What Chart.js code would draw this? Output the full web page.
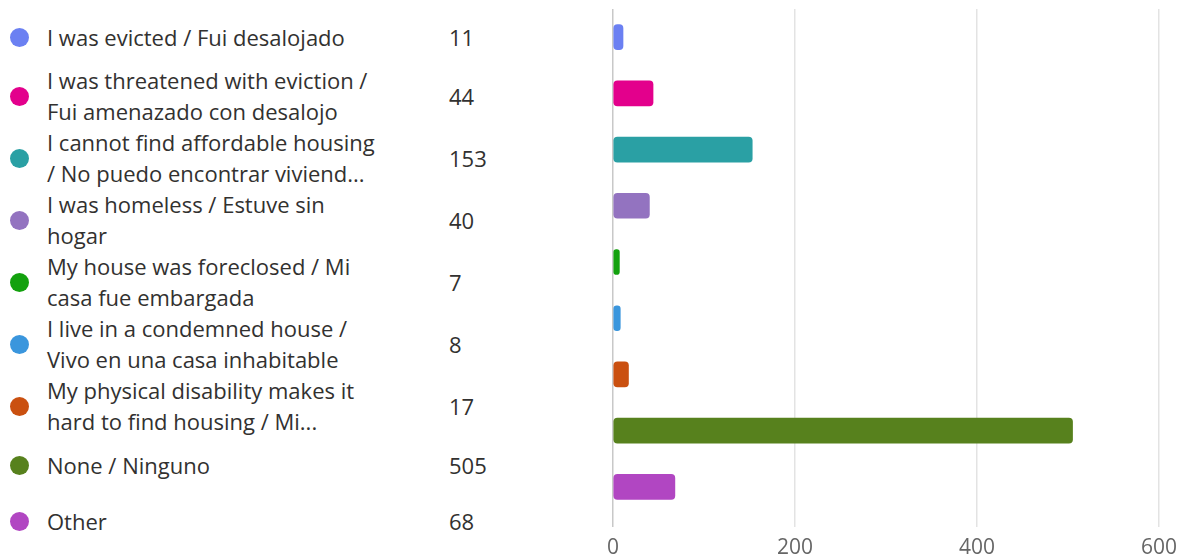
<!DOCTYPE html>
<html>
<head>
<meta charset="utf-8">
<script src="https://cdn.jsdelivr.net/npm/chart.js@4/dist/chart.umd.min.js"></script>
<style>
  html, body { margin: 0; padding: 0; background: #fff; }
  body { width: 1182px; height: 559px; position: relative; overflow: hidden;
         font-family: "Open Sans", "Noto Sans", sans-serif; color: #323130; }
  #legend { position: absolute; left: 0; top: 9px; width: 560px; }
  .row { display: flex; align-items: center; min-height: 56px; }
  .dot { width: 19px; height: 19px; border-radius: 50%; margin-left: 10px; flex: none; }
  .label { margin-left: 18px; width: 402px; font-size: 22px; line-height: 31px; white-space: nowrap; }
  .value { font-size: 22px; line-height: 31px; }
  #wrap { position: absolute; left: 590px; top: 0; width: 592px; height: 559px; }
</style>
</head>
<body>
<div id="legend"></div>
<div id="wrap"><canvas id="chart"></canvas></div>
<script>
// Response options (line breaks as shown in the list)
const categories = [
  "I was evicted / Fui desalojado",
  "I was threatened with eviction /\nFui amenazado con desalojo",
  "I cannot find affordable housing\n/ No puedo encontrar viviend...",
  "I was homeless / Estuve sin\nhogar",
  "My house was foreclosed / Mi\ncasa fue embargada",
  "I live in a condemned house /\nVivo en una casa inhabitable",
  "My physical disability makes it\nhard to find housing / Mi...",
  "None / Ninguno",
  "Other"
];
// Number of responses per option
const counts = [11, 44, 153, 40, 7, 8, 17, 505, 68];
// Option colours
const colors = ["#6b80f2", "#e3008c", "#2aa0a4", "#9373c0", "#13a10e",
                "#3a96dd", "#ca5010", "#57811d", "#b146c2"];
// Value axis ticks
const xTicks = [0, 200, 400, 600];

// Legend list on the left
const legend = document.getElementById("legend");
categories.forEach((c, i) => {
  const row = document.createElement("div");
  row.className = "row";
  const dot = document.createElement("div");
  dot.className = "dot";
  dot.style.background = colors[i];
  const lab = document.createElement("div");
  lab.className = "label";
  c.split("\n").forEach((line, k) => {
    if (k) lab.appendChild(document.createElement("br"));
    lab.appendChild(document.createTextNode(line));
  });
  const val = document.createElement("div");
  val.className = "value";
  val.textContent = counts[i];
  row.append(dot, lab, val);
  legend.appendChild(row);
});

new Chart(document.getElementById("chart"), {
  type: "bar",
  data: {
    labels: categories,
    datasets: [{
      data: counts,
      backgroundColor: colors,
      borderRadius: 4,
      borderSkipped: false,
      barThickness: 25
    }]
  },
  options: {
    indexAxis: "y",
    responsive: true,
    maintainAspectRatio: false,
    animation: false,
    layout: { padding: { top: 9, left: 23, right: 23, bottom: 0 } },
    plugins: { legend: { display: false }, tooltip: { enabled: false } },
    scales: {
      x: {
        min: 0, max: 600,
        afterBuildTicks: s => { s.ticks = xTicks.map(v => ({ value: v })); },
        afterFit: s => { s.height = 44; s.paddingLeft = 0; s.paddingRight = 0; },
        grid: {
          color: ctx => ctx.tick && ctx.tick.value === 0 ? "#c8c8c8" : "#e3e3e3",
          lineWidth: 1.5,
          tickLength: 12
        },
        border: { display: false },
        ticks: {
          color: "#666",
          padding: 8,
          font: { family: "'Open Sans', sans-serif", size: 21 }
        }
      },
      y: { display: false }
    }
  }
});
</script>
</body>
</html>
